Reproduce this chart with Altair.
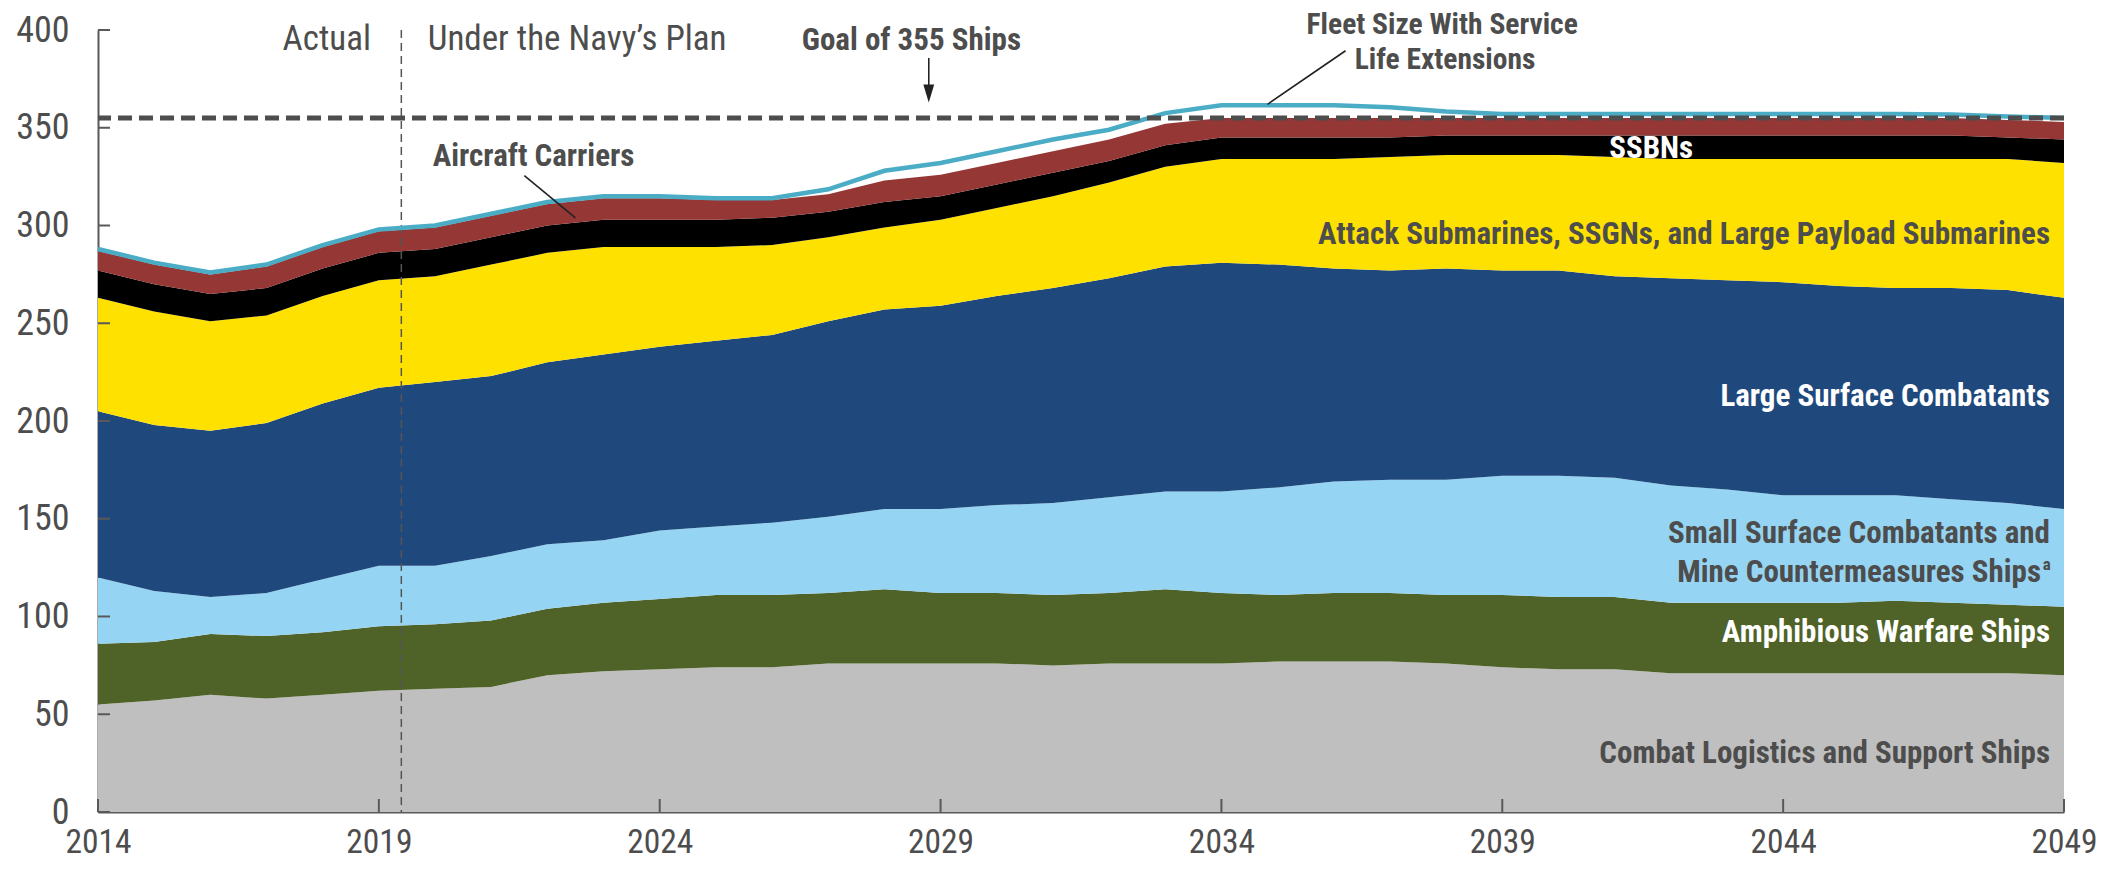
import altair as alt
import pandas as pd

# ---------------- data ----------------
years = list(range(2014, 2050))

categories = [
    "Combat Logistics and Support Ships",
    "Amphibious Warfare Ships",
    "Small Surface Combatants and Mine Countermeasures Ships",
    "Large Surface Combatants",
    "Attack Submarines, SSGNs, and Large Payload Submarines",
    "SSBNs",
    "Aircraft Carriers",
]
colors = ["#bfbfbf", "#4f6228", "#95d5f3", "#1f497d", "#ffe100", "#000000", "#953735"]

logistics = [55, 57, 60, 58, 60, 62, 63, 64, 70, 72, 73, 74, 74, 76, 76, 76, 76, 75, 76, 76,
             76, 77, 77, 77, 76, 74, 73, 73, 71, 71, 71, 71, 71, 71, 71, 70]
amphibious = [31, 30, 31, 32, 32, 33, 33, 34, 34, 35, 36, 37, 37, 36, 38, 36, 36, 36, 36, 38,
              36, 34, 35, 35, 35, 37, 37, 37, 36, 36, 36, 36, 37, 36, 35, 35]
small_surface = [34, 26, 19, 22, 27, 31, 30, 33, 33, 32, 35, 35, 37, 39, 41, 43, 45, 47, 49, 50,
                 52, 55, 57, 58, 59, 61, 62, 61, 60, 58, 55, 55, 54, 53, 52, 50]
large_surface = [85, 85, 85, 87, 90, 91, 94, 92, 93, 95, 94, 95, 96, 100, 102, 104, 107, 110, 112, 115,
                 117, 114, 109, 107, 108, 105, 105, 103, 106, 107, 109, 107, 106, 108, 109, 108]
attack_subs = [58, 58, 56, 55, 55, 55, 54, 57, 56, 55, 51, 48, 46, 43, 42, 44, 45, 47, 49, 51,
               53, 54, 56, 58, 58, 59, 59, 61, 61, 62, 63, 65, 66, 66, 67, 69]
ssbns = [14, 14, 14, 14, 14, 14, 14, 14, 14, 14, 14, 14, 14, 13, 13, 12, 12, 12, 11, 11,
         11, 11, 11, 10, 10, 10, 10, 11, 12, 12, 12, 12, 12, 12, 11, 12]
carriers = [10, 10, 10, 11, 11, 11, 11, 11, 11, 11, 11, 10, 9, 9, 11, 11, 11, 11, 11, 11,
            10, 10, 10, 10, 9, 9, 9, 9, 9, 9, 9, 9, 9, 9, 9, 9]
fleet_with_sle = [288, 281, 276, 280, 290, 298, 300, 306, 312, 315, 315, 314, 314, 318.5, 328, 332,
                  338, 344, 349, 357.5, 361.5, 361.5, 361.5, 360.5, 358.3, 357, 357, 357, 357, 357,
                  357, 357, 357, 356.8, 355.8, 355]

goal = 355
divider_year = 2019.4
x_ticks = [2014, 2019, 2024, 2029, 2034, 2039, 2044, 2049]
y_ticks = [0, 50, 100, 150, 200, 250, 300, 350, 400]

series = [logistics, amphibious, small_surface, large_surface, attack_subs, ssbns, carriers]

rows = []
for i, (cat, vals) in enumerate(zip(categories, series)):
    for yr, v in zip(years, vals):
        rows.append({"year": yr, "value": v, "category": cat, "order": i})
df = pd.DataFrame(rows)
df_line = pd.DataFrame({"year": years, "value": fleet_with_sle})

# ---------------- style ----------------
FONT = "Liberation Sans Narrow, Arial Narrow, Roboto Condensed, sans-serif"
TEXT = "#4d4d4d"
AXIS = "#595959"
W, H = 1966, 782
LBL = 31

X = alt.X("year:Q",
          scale=alt.Scale(domain=[2014, 2049], nice=False, zero=False),
          axis=alt.Axis(values=x_ticks, format="d", title=None, grid=False, ticks=False,
                        tickSize=0, labelPadding=14, labelFlush=False, labelOverlap=False,
                        labelFontSize=33.5, labelFont=FONT, labelColor=TEXT,
                        domainColor=AXIS, domainWidth=2))


def Y(stack=False):
    kw = dict(scale=alt.Scale(domain=[0, 400], nice=False),
              axis=alt.Axis(values=y_ticks, title=None, grid=False, ticks=False, tickSize=0,
                            labelPadding=29, labelOverlap=False, labelFontSize=36,
                            labelFont=FONT, labelColor=TEXT, domainColor=AXIS, domainWidth=2))
    if stack:
        return alt.Y("value:Q", stack="zero", **kw)
    return alt.Y("value:Q", stack=False, **kw)


areas = alt.Chart(df).mark_area(interpolate="linear").encode(
    x=X,
    y=Y(stack=True),
    color=alt.Color("category:N", scale=alt.Scale(domain=categories, range=colors), legend=None),
    order=alt.Order("order:Q", sort="ascending"),
)

sle_line = alt.Chart(df_line).mark_line(color="#4bacc6", strokeWidth=4.5).encode(x=X, y=Y())

goal_rule = alt.Chart(pd.DataFrame({"value": [goal]})).mark_rule(
    color="#4d4d4d", strokeWidth=5, strokeDash=[14, 7]).encode(y=Y())

divider = alt.Chart(pd.DataFrame({"year": [divider_year]})).mark_rule(
    color="#555555", strokeWidth=1.5, strokeDash=[8, 5]).encode(x=X)

y_tick_marks = alt.Chart(pd.DataFrame({"value": y_ticks})).mark_rule(
    color=AXIS, strokeWidth=2).encode(y=Y(), x=alt.value(0), x2=alt.value(12))
x_tick_marks = alt.Chart(pd.DataFrame({"year": x_ticks})).mark_rule(
    color=AXIS, strokeWidth=2).encode(x=X, y=alt.value(H), y2=alt.value(H - 13))


def text_layer(texts, xs, ys, **kw):
    d = pd.DataFrame({"year": xs, "value": ys, "label": texts})
    return alt.Chart(d).mark_text(font=FONT, baseline="middle", **kw).encode(
        x=X, y=Y(), text="label:N")


# area labels (right aligned)
dark_labels = text_layer(
    ["Attack Submarines, SSGNs, and Large Payload Submarines",
     "Small Surface Combatants and",
     "Combat Logistics and Support Ships"],
    [2048.75, 2048.75, 2048.75], [295.2, 142.3, 29.9],
    align="right", fontSize=LBL, fontWeight="bold", color=TEXT)
dark_label_mine = text_layer(
    ["Mine Countermeasures Ships"], [2048.59], [122.0],
    align="right", fontSize=LBL, fontWeight="bold", color=TEXT)
sup_a = text_layer(["a"], [2048.62], [126.5], align="left", fontSize=17,
                   fontWeight="bold", color=TEXT)
white_labels = text_layer(
    ["Large Surface Combatants", "Amphibious Warfare Ships"],
    [2048.75, 2048.75], [212.2, 91.6],
    align="right", fontSize=LBL, fontWeight="bold", color="white")
ssbn_label = text_layer(["SSBNs"], [2041.65], [339.0], align="center", fontSize=LBL,
                        fontWeight="bold", color="white")

# annotations
carrier_label = text_layer(["Aircraft Carriers"], [2019.96], [335.0], align="left",
                           fontSize=LBL, fontWeight="bold", color=TEXT)
goal_label = text_layer(["Goal of 355 Ships"], [2028.48], [394.4], align="center",
                        fontSize=LBL, fontWeight="bold", color=TEXT)
sle_label = text_layer(["Fleet Size With Service", "Life Extensions"],
                       [2037.93, 2037.98], [402.6, 384.7], align="center",
                       fontSize=29.5, fontWeight="bold", color=TEXT)
actual_label = text_layer(["Actual"], [2018.86], [395.4], align="right", fontSize=35,
                          color=TEXT)
plan_label = text_layer(["Under the Navy\u2019s Plan"], [2019.87], [395.4], align="left",
                        fontSize=35, color=TEXT)

leaders = alt.Chart(pd.DataFrame({
    "year": [2021.59, 2036.21, 2028.79],
    "value": [325.5, 389.4, 385.7],
    "year2": [2022.50, 2034.82, 2028.79],
    "value2": [303.9, 362.0, 369.0],
})).mark_rule(color="#222222", strokeWidth=1.6).encode(
    x=X, y=Y(), x2="year2:Q", y2="value2:Q")

arrow_head = alt.Chart(pd.DataFrame({"year": [2028.79], "value": [367.5]})).mark_point(
    shape="M-0.6,-1L0.6,-1L0,1Z", filled=True, size=330, color="#222222", opacity=1
).encode(x=X, y=Y())

chart = alt.layer(
    areas, divider, sle_line, goal_rule, y_tick_marks, x_tick_marks,
    dark_labels, dark_label_mine, sup_a, white_labels, ssbn_label,
    carrier_label, goal_label, sle_label, actual_label, plan_label,
    leaders, arrow_head,
).properties(
    width=W, height=H,
    autosize=alt.AutoSizeParams(type="none"),
    padding={"left": 90, "top": 22, "right": 36, "bottom": 54},
    background="white",
).configure_view(strokeWidth=0)

chart.save("out.html", embed_options={"renderer": "svg", "actions": False})
